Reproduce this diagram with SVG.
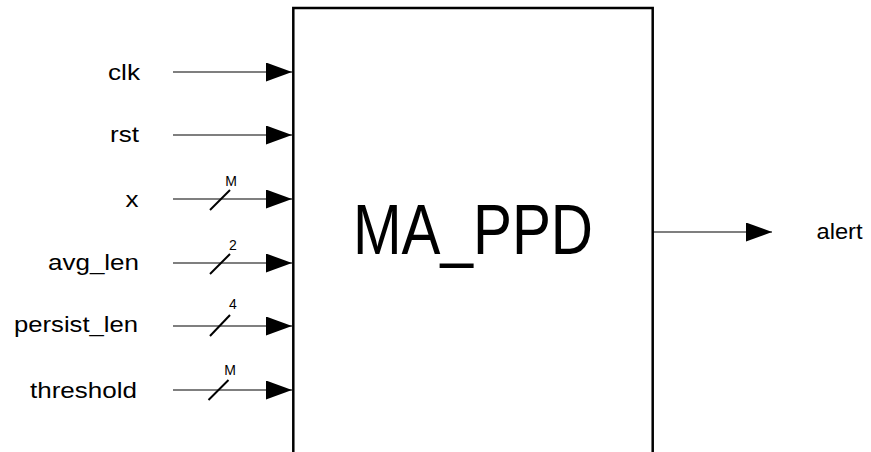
<svg xmlns="http://www.w3.org/2000/svg" width="871" height="452" viewBox="0 0 871 452">
<style>
text{font-family:"Liberation Sans",Arial,sans-serif;fill:#000}
.lbl{font-size:22px}
.bw{font-size:14px;text-anchor:middle}
.wire{stroke:#000;stroke-width:1.2;fill:none}
.bus{stroke:#000;stroke-width:2;fill:none}
</style>
<defs>
<marker id="arr" markerUnits="userSpaceOnUse" markerWidth="28" markerHeight="20" refX="26" refY="9.5" orient="auto">
<path d="M0,0 L26,9.5 L0,19 Z" fill="#000"/>
</marker>
</defs>
<g id="ma_ppd">
<path d="M293.3,470 V8 H652.7 V470" fill="none" stroke="#000" stroke-width="2.5"/>
<text x="353" y="254" font-size="70" textLength="240" lengthAdjust="spacingAndGlyphs">MA_PPD</text>
</g>
<g id="labels">
<text class="lbl" x="108" y="80" textLength="32" lengthAdjust="spacingAndGlyphs">clk</text>
<text class="lbl" x="110" y="142" textLength="29" lengthAdjust="spacingAndGlyphs">rst</text>
<text class="lbl" x="125.5" y="207" textLength="13" lengthAdjust="spacingAndGlyphs">x</text>
<text class="lbl" x="48" y="270" textLength="91" lengthAdjust="spacingAndGlyphs">avg_len</text>
<text class="lbl" x="14" y="332" textLength="124" lengthAdjust="spacingAndGlyphs">persist_len</text>
<text class="lbl" x="30" y="398" textLength="107" lengthAdjust="spacingAndGlyphs">threshold</text>
<text class="lbl" x="816.5" y="238.5" textLength="46" lengthAdjust="spacingAndGlyphs">alert</text>
</g>
<g id="connectors">
<line class="wire" x1="173" y1="72" x2="292" y2="72" marker-end="url(#arr)"/>
<line class="wire" x1="173" y1="135" x2="292" y2="135" marker-end="url(#arr)"/>
<line class="wire" x1="173" y1="199" x2="292" y2="199" marker-end="url(#arr)"/>
<line class="wire" x1="173" y1="263" x2="292" y2="263" marker-end="url(#arr)"/>
<line class="wire" x1="173" y1="326" x2="292" y2="326" marker-end="url(#arr)"/>
<line class="wire" x1="173" y1="390" x2="292" y2="390" marker-end="url(#arr)"/>
<line class="wire" x1="653" y1="232" x2="772" y2="232" marker-end="url(#arr)"/>
<line class="bus" x1="210" y1="210" x2="230" y2="190"/>
<line class="bus" x1="210" y1="274" x2="230" y2="254"/>
<line class="bus" x1="210" y1="336" x2="230" y2="315"/>
<line class="bus" x1="208.5" y1="400" x2="228.5" y2="380"/>
<text class="bw" x="231" y="186">M</text>
<text class="bw" x="233" y="250">2</text>
<text class="bw" x="233" y="309">4</text>
<text class="bw" x="230" y="375">M</text>
</g>
</svg>
